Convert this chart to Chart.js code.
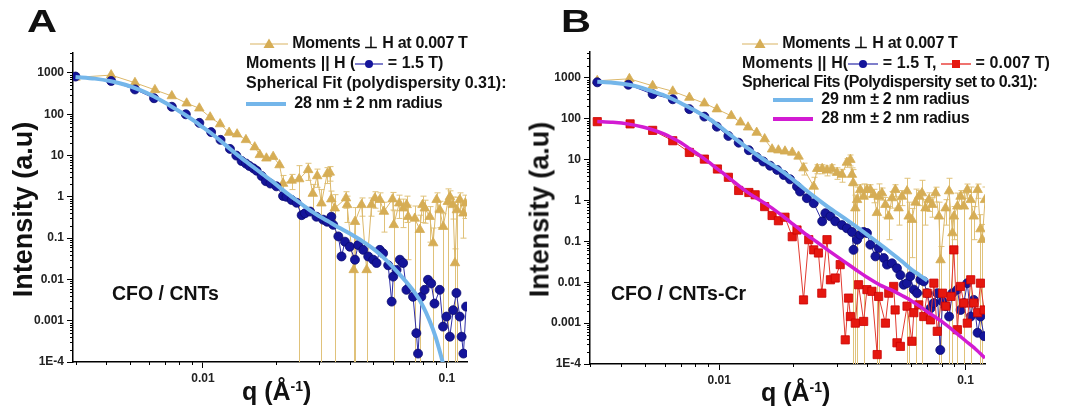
<!DOCTYPE html>
<html>
<head>
<meta charset="utf-8">
<script src="https://cdn.jsdelivr.net/npm/chart.js@4.4.1/dist/chart.umd.min.js"></script>
<style>
  body { margin: 0; background: #fff; width: 1066px; height: 407px; overflow: hidden; position: relative;
         font-family: 'Liberation Sans', Arial, sans-serif; color: #111; }
  .panel { position: absolute; top: 0; width: 533px; height: 407px; }
  .txt { position: absolute; white-space: nowrap; font-weight: bold; line-height: 18px; }
  .leg { font-size: 16px; letter-spacing: -0.3px; }
  .big { font-size: 32px; transform: scaleX(1.3); transform-origin: left top; line-height: 32px; }
  .ytitle { font-size: 27px; transform: rotate(-90deg); transform-origin: center center; line-height: 27px; }
  .xtitle { font-size: 25px; line-height: 25px; }
  .xtitle sup { font-size: 14px; vertical-align: 9px; line-height: 0; }
  .lab { font-size: 19.5px; line-height: 20px; }
  svg { vertical-align: middle; }
</style>
</head>
<body>
<div class="panel" style="left:0"><canvas id="chartA" width="533" height="407"></canvas></div>
<div class="panel" style="left:533px"><canvas id="chartB" width="533" height="407"></canvas></div>

<!-- panel A texts -->
<div class="txt big" style="left:27px; top:5px">A</div>
<div class="txt leg" style="left:250px; top:34px"><svg width="38" height="12"><line x1="0" y1="6" x2="38" y2="6" stroke="#d9b463" stroke-width="1.2"/><polygon points="19,0.5 24.5,10 13.5,10" fill="#d6ad55"/></svg>&nbsp;Moments ⊥ H at 0.007 T</div>
<div class="txt leg" style="left:246px; top:54px; letter-spacing:0">Moments || H (<svg width="28" height="12"><line x1="0" y1="6" x2="28" y2="6" stroke="#2a2aa8" stroke-width="1.2"/><circle cx="14" cy="6" r="4" fill="#14149a"/></svg> = 1.5 T)</div>
<div class="txt leg" style="left:246px; top:74px; letter-spacing:0">Spherical Fit (polydispersity 0.31):</div>
<div class="txt leg" style="left:246px; top:94px"><svg width="40" height="12"><line x1="0" y1="6" x2="40" y2="6" stroke="#74b6ea" stroke-width="4"/></svg>&nbsp; 28 nm ± 2 nm radius</div>
<div class="txt ytitle" style="left:-67px; top:196px; width:180px; text-align:center">Intensity (a.u)</div>
<div class="txt xtitle" style="left:242px; top:379px">q (Å<sup>-1</sup>)</div>
<div class="txt lab" style="left:112px; top:283px">CFO / CNTs</div>

<!-- panel B texts -->
<div class="txt big" style="left:561px; top:5px">B</div>
<div class="txt leg" style="left:742px; top:34px"><svg width="36" height="12"><line x1="0" y1="6" x2="36" y2="6" stroke="#d9b463" stroke-width="1.2"/><polygon points="18,0.5 23.5,10 12.5,10" fill="#d6ad55"/></svg>&nbsp;Moments ⊥ H at 0.007 T</div>
<div class="txt leg" style="left:742px; top:54px; letter-spacing:0.1px">Moments || H(<svg width="30" height="12"><line x1="0" y1="6" x2="30" y2="6" stroke="#2a2aa8" stroke-width="1.2"/><circle cx="15" cy="6" r="4" fill="#14149a"/></svg> = 1.5 T, <svg width="30" height="12"><line x1="0" y1="6" x2="30" y2="6" stroke="#e5170f" stroke-width="1.2"/><rect x="11" y="2" width="8" height="8" fill="#e5170f"/></svg> = 0.007 T)</div>
<div class="txt leg" style="left:742px; top:73px; letter-spacing:-0.5px">Spherical Fits (Polydispersity set to 0.31):</div>
<div class="txt leg" style="left:773px; top:90px"><svg width="40" height="12"><line x1="0" y1="6" x2="40" y2="6" stroke="#74b6ea" stroke-width="4"/></svg>&nbsp; 29 nm ± 2 nm radius</div>
<div class="txt leg" style="left:773px; top:109px"><svg width="40" height="12"><line x1="0" y1="6" x2="40" y2="6" stroke="#d21bd2" stroke-width="4"/></svg>&nbsp; 28 nm ± 2 nm radius</div>
<div class="txt ytitle" style="left:450px; top:196px; width:180px; text-align:center">Intensity (a.u)</div>
<div class="txt xtitle" style="left:761px; top:380px">q (Å<sup>-1</sup>)</div>
<div class="txt lab" style="left:611px; top:283px">CFO / CNTs-Cr</div>

<script>
// ---- axes ----
const yTickValues = [1e-4, 0.001, 0.01, 0.1, 1, 10, 100, 1000];
const yTickLabels = ['1E-4', '0.001', '0.01', '0.1', '1', '10', '100', '1000'];
const xTickValues = [0.01, 0.1];
const xTickLabels = ['0.01', '0.1'];

// ---- panel A: CFO / CNTs ----
const aGoldQ = [0.0030, 0.0042, 0.00526, 0.00635, 0.00745, 0.00857, 0.00966, 0.0107, 0.01175, 0.0128,
  0.0138, 0.0150, 0.0163, 0.0171, 0.0182, 0.0194, 0.0206, 0.0213, 0.0231, 0.0248,
  0.0270, 0.0282, 0.0294, 0.0306, 0.0323, 0.0331, 0.0336, 0.0347, 0.0386, 0.0390,
  0.0415, 0.0420, 0.0447, 0.0469, 0.0491, 0.0507, 0.0531, 0.0552, 0.0599, 0.0606,
  0.0638, 0.0663, 0.0684, 0.0694, 0.0739, 0.0775, 0.0795, 0.0812, 0.0851, 0.0879,
  0.0908, 0.0936, 0.0966, 0.101, 0.103, 0.106, 0.108, 0.110, 0.113, 0.117, 0.119];
const aGoldI = [780, 890, 580, 390, 277, 185, 140, 85, 58, 36,
  33, 24, 16, 10.4, 8.6, 9.4, 5.9, 2.1, 2.5, 2.7,
  4.5, 1.2, 3.2, 0.7, 3.6, 3.9, 0.88, 0.53, 0.93, 0.64,
  0.017, 0.25, 0.64, 0.017, 0.64, 0.93, 0.85, 0.44, 0.88, 0.21,
  0.70, 0.53, 0.64, 0.33, 0.30, 0.16, 0.64, 0.53, 0.33, 0.076,
  0.85, 0.48, 0.19, 0.76, 1.0, 0.64, 0.025, 0.48, 0.85, 0.40, 0.70];
const aGoldErr = [0, 0, 0, 0, 0, 0, 0, 0, 0, 0,
  0, 0, 0, 0, 0, 0, 0, 1.2, 1.0, 3,
  2, 0.8, 1.5, 0.8, 1.5, 1.5, 0.5, 0.6, 0.4, 0.4,
  0.02, 0.3, 0.3, 0.02, 0.3, 0.4, 0.4, 0.3, 0.4, 0.25,
  0.4, 0.35, 0.4, 0.3, 0.3, 0.2, 0.4, 0.3, 0.25, 0.1,
  0.4, 0.3, 0.2, 0.8, 0.4, 0.35, 0.03, 0.5, 0.4, 0.3, 0.4];

const aBlueQ = [0.0030, 0.0042, 0.00526, 0.0063, 0.00745, 0.0085, 0.00966, 0.0108, 0.0118, 0.0129,
  0.0137, 0.0144, 0.0150, 0.0155, 0.0161, 0.0166, 0.0174, 0.0181, 0.0189, 0.0200,
  0.0213, 0.0220, 0.0231, 0.0242, 0.0254, 0.0262, 0.0275, 0.0292, 0.0311, 0.0323,
  0.0336, 0.0342, 0.0359, 0.0370, 0.0382, 0.0400, 0.0420, 0.0433, 0.0454, 0.0476,
  0.0499, 0.0515, 0.0531, 0.0548, 0.0575, 0.0594, 0.0603, 0.0622, 0.0642, 0.0662,
  0.0683, 0.0727, 0.0750, 0.0762, 0.0786, 0.0811, 0.0837, 0.0863, 0.0890, 0.0935,
  0.0965, 0.0997, 0.1029, 0.1062, 0.1095, 0.113, 0.115, 0.117, 0.120];
const aBlueI = [820, 640, 400, 245, 152, 100, 62, 37, 24, 14.5,
  10, 7.4, 6.4, 5.6, 4.9, 4.3, 3.2, 2.4, 2.1, 1.8,
  1.05, 1.0, 0.84, 0.72, 0.36, 0.40, 0.44, 0.33, 0.28, 0.25,
  0.33, 0.21, 0.11, 0.036, 0.082, 0.062, 0.030, 0.068, 0.052, 0.036,
  0.030, 0.025, 0.052, 0.043, 0.022, 0.0029, 0.0117, 0.017, 0.030, 0.025,
  0.0056, 0.0038, 0.0005, 0.00016, 0.0038, 0.0056, 0.0098, 0.008, 0.0026, 0.0056,
  0.00072, 0.00126, 0.00041, 0.0018, 0.0047, 0.00126, 0.00041, 0.00016, 0.0022];

const aFitQ = [0.0030, 0.0036, 0.0042, 0.0048, 0.0055, 0.0063, 0.0070, 0.0077, 0.0085, 0.0093,
  0.0100, 0.0110, 0.0120, 0.0130, 0.0140, 0.0150, 0.0160, 0.0175, 0.0190, 0.0205,
  0.0220, 0.0240, 0.0260, 0.0280, 0.0300, 0.0325, 0.0350, 0.0375, 0.0400, 0.0450,
  0.0500, 0.0550, 0.0600, 0.0650, 0.0700, 0.0750, 0.0800, 0.0850, 0.0900, 0.0950, 0.100];
const aFitI = [800, 730, 630, 520, 390, 270, 190, 135, 95, 66,
  48, 32, 21, 14, 9.8, 7.2, 5.4, 3.6, 2.5, 1.75,
  1.25, 0.85, 0.6, 0.44, 0.34, 0.26, 0.2, 0.16, 0.13, 0.085,
  0.055, 0.034, 0.02, 0.012, 0.0072, 0.0042, 0.0022, 0.001, 0.0004, 0.00013, 0.00004];

// ---- panel B: CFO / CNTs-Cr ----
const bGoldQ = [0.0032, 0.00432, 0.00537, 0.00648, 0.00757, 0.00871, 0.00979, 0.0112, 0.0122, 0.0131,
  0.0142, 0.0153, 0.0164, 0.0174, 0.0185, 0.0198, 0.0210, 0.0220, 0.0242, 0.0250,
  0.0262, 0.0274, 0.0287, 0.0301, 0.0315, 0.0330, 0.0341, 0.0346, 0.0350, 0.0357,
  0.0363, 0.0374, 0.0386, 0.0398, 0.0411, 0.0424, 0.0437, 0.0444, 0.0458, 0.0473,
  0.0488, 0.0503, 0.0519, 0.0535, 0.0552, 0.0579, 0.0588, 0.0606, 0.0627, 0.0646,
  0.0666, 0.0688, 0.0710, 0.0732, 0.0756, 0.0780, 0.0792, 0.0830, 0.0858, 0.0885,
  0.0897, 0.0927, 0.0955, 0.0985, 0.1017, 0.105, 0.108, 0.112, 0.115, 0.117, 0.120];
const bGoldI = [850, 950, 640, 470, 330, 240, 172, 118, 82, 62,
  46, 32, 18, 17, 16, 15, 12, 6.2, 2.2, 6.0,
  6.0, 5.5, 6.0, 4.8, 4.3, 8.5, 10, 4.3, 2.7, 0.65,
  1.04, 1.83, 1.25, 1.83, 1.83, 1.38, 0.5, 1.25, 1.52, 0.79,
  0.41, 1.15, 1.83, 0.65, 1.25, 1.7, 0.41, 0.34, 0.9, 1.25,
  1.52, 0.65, 1.04, 0.79, 1.52, 0.41, 0.035, 0.65, 1.7, 0.16,
  0.41, 0.72, 1.25, 0.72, 1.83, 1.04, 0.41, 1.83, 0.2, 0.11, 1.04];
const bGoldErr = [0, 0, 0, 0, 0, 0, 0, 0, 0, 0,
  0, 0, 0, 0, 0, 0, 0, 2, 1.5, 1.5,
  1.5, 1.5, 1.5, 1.5, 1.5, 2, 3, 2, 3, 0.7,
  1.1, 0.6, 1.3, 0.6, 0.6, 0.5, 0.6, 1.3, 0.5, 0.4,
  0.3, 0.5, 0.6, 0.4, 0.5, 1.8, 0.5, 0.3, 1.0, 0.5,
  1.6, 0.4, 0.5, 0.4, 0.6, 0.5, 0.04, 0.4, 1.8, 0.2,
  0.3, 0.8, 0.5, 0.8, 0.7, 1.1, 0.3, 0.7, 0.25, 0.15, 1.1];

const bBlueQ = [0.0032, 0.00428, 0.00537, 0.00648, 0.00757, 0.00871, 0.00979, 0.0109, 0.0120, 0.0132,
  0.0142, 0.0151, 0.0161, 0.0172, 0.0183, 0.0194, 0.0207, 0.0213, 0.0227, 0.0242,
  0.0262, 0.0270, 0.0283, 0.0296, 0.0315, 0.0330, 0.0346, 0.0351, 0.0363, 0.0374,
  0.0386, 0.0398, 0.0411, 0.0431, 0.0444, 0.0466, 0.0480, 0.0503, 0.0527, 0.0544,
  0.0561, 0.0579, 0.0597, 0.0617, 0.0636, 0.0656, 0.0677, 0.0699, 0.0721, 0.0744,
  0.0768, 0.0790, 0.0806, 0.0832, 0.0858, 0.0885, 0.0927, 0.0955, 0.0985, 0.1017,
  0.105, 0.108, 0.112, 0.115, 0.119];
const bBlueI = [780, 680, 400, 300, 172, 113, 64, 38, 26, 17,
  11.5, 9.0, 7.1, 5.6, 4.2, 3.3, 2.2, 1.66, 1.14, 0.86,
  0.31, 0.49, 0.41, 0.31, 0.25, 0.21, 0.17, 0.062, 0.11, 0.145,
  0.17, 0.16, 0.083, 0.043, 0.069, 0.039, 0.027, 0.029, 0.022, 0.015,
  0.0087, 0.0095, 0.014, 0.0066, 0.0054, 0.0115, 0.0105, 0.0054, 0.0023, 0.0031,
  0.0054, 0.00022, 0.0034, 0.0026, 0.00145, 0.0054, 0.0066, 0.0021, 0.0031, 0.0095,
  0.00145, 0.0037, 0.00058, 0.00145, 0.00048];

const bRedQ = [0.0032, 0.00435, 0.00537, 0.00648, 0.00757, 0.00871, 0.00984, 0.0109, 0.0120, 0.0132,
  0.0140, 0.0153, 0.0164, 0.0174, 0.0185, 0.0198, 0.0207, 0.0220, 0.0231, 0.0242,
  0.0253, 0.0261, 0.0274, 0.0283, 0.0296, 0.0310, 0.0325, 0.0335, 0.0341, 0.0357,
  0.0368, 0.0386, 0.0398, 0.0417, 0.0438, 0.0444, 0.0473, 0.0488, 0.0511, 0.0518,
  0.0527, 0.0544, 0.0579, 0.0606, 0.0617, 0.0646, 0.0677, 0.0699, 0.0721, 0.0744,
  0.0768, 0.0806, 0.0832, 0.0873, 0.0897, 0.0927, 0.0955, 0.0985, 0.1017, 0.105,
  0.108, 0.112, 0.115, 0.119];
const bRedI = [85, 75, 52, 29, 15, 10.3, 5.9, 3.7, 1.76, 1.57,
  1.38, 0.71, 0.43, 0.32, 0.39, 0.13, 0.19, 0.0037, 0.11, 0.062,
  0.052, 0.0054, 0.11, 0.0115, 0.0127, 0.027, 0.00039, 0.0041, 0.00145, 0.001,
  0.0087, 0.0011, 0.0066, 0.006, 0.00017, 0.0045, 0.001, 0.0054, 0.0079, 0.0021,
  0.00033, 0.00027, 0.0026, 0.00036, 0.0018, 0.0028, 0.00145, 0.0054, 0.0012, 0.0095,
  0.00063, 0.0054, 0.0026, 0.0045, 0.062, 0.00069, 0.0079, 0.0031, 0.001, 0.0115,
  0.0031, 0.0018, 0.0095, 0.0021];

const bFitBlueQ = [0.0032, 0.0037, 0.0043, 0.0049, 0.0054, 0.0060, 0.0065, 0.0070, 0.0076, 0.0082,
  0.0087, 0.0093, 0.0098, 0.0104, 0.0110, 0.0120, 0.0130, 0.0140, 0.0150, 0.0160,
  0.0180, 0.0200, 0.0220, 0.0250, 0.0280, 0.0320, 0.0360, 0.0400, 0.0450, 0.0500,
  0.0550, 0.0600, 0.0650, 0.0700];
const bFitBlueI = [800, 760, 680, 560, 460, 370, 300, 240, 185, 145,
  118, 92, 72, 55, 42, 28, 19.5, 14, 10.5, 8.2,
  5.2, 3.2, 2.0, 1.1, 0.66, 0.38, 0.23, 0.145, 0.085, 0.052,
  0.033, 0.021, 0.015, 0.011];

const bFitMagQ = [0.0032, 0.0037, 0.0043, 0.0049, 0.0054, 0.0060, 0.0065, 0.0070, 0.0076, 0.0082,
  0.0087, 0.0093, 0.0098, 0.0104, 0.0110, 0.0120, 0.0130, 0.0140, 0.0160, 0.0180,
  0.0200, 0.0220, 0.0250, 0.0280, 0.0320, 0.0360, 0.0400, 0.0450, 0.0500, 0.0550,
  0.0600, 0.0650, 0.0700, 0.0800, 0.0900, 0.1000, 0.1100, 0.1200];
const bFitMagI = [86, 82, 74, 63, 53, 42, 33, 26, 18.5, 13.5,
  10.5, 7.8, 6, 4.6, 3.5, 2.3, 1.6, 1.2, 0.72, 0.43,
  0.26, 0.165, 0.095, 0.058, 0.033, 0.02, 0.013, 0.0085, 0.0065, 0.0048,
  0.0036, 0.0026, 0.0019, 0.0011, 0.00063, 0.00037, 0.00023, 0.00014];

const FONT = "'Liberation Sans', Arial, sans-serif";
const GOLD = '#d6ad55', NAVY = '#14149a', RED = '#e5170f', SKY = '#74b6ea', MAGENTA = '#d21bd2';

function pts(qs, vals) {
  return qs.map((q, i) => ({ x: q, y: vals[i] }));
}

// petits traits des graduations logarithmiques (2..9 de chaque décade)
const minorTicks = {
  id: 'minorTicks',
  afterDraw(chart) {
    const ctx = chart.ctx;
    ctx.save();
    ctx.strokeStyle = '#000';
    ctx.lineWidth = 1;
    ['x', 'y'].forEach(id => {
      const s = chart.scales[id];
      const lo = Math.floor(Math.log10(s.min)), hi = Math.ceil(Math.log10(s.max));
      for (let d = lo; d <= hi; d++) {
        for (let m = 2; m <= 9; m++) {
          const v = m * Math.pow(10, d);
          if (v < s.min || v > s.max) continue;
          const p = Math.round(s.getPixelForValue(v)) + 0.5;
          ctx.beginPath();
          if (id === 'x') { ctx.moveTo(p, s.top); ctx.lineTo(p, s.top + 3); }
          else { ctx.moveTo(s.right, p); ctx.lineTo(s.right - 3, p); }
          ctx.stroke();
        }
      }
    });
    ctx.restore();
  }
};

// barres d'erreur verticales (vers le bas du graphe si la borne inférieure est <= 0)
const errorBars = {
  id: 'errorBars',
  beforeDatasetsDraw(chart) {
    const ctx = chart.ctx, area = chart.chartArea, ys = chart.scales.y;
    ctx.save();
    ctx.beginPath();
    ctx.rect(area.left, area.top, area.right - area.left, area.bottom - area.top);
    ctx.clip();
    chart.data.datasets.forEach((ds, i) => {
      if (!ds.errs) return;
      const meta = chart.getDatasetMeta(i);
      ctx.strokeStyle = ds.errColor;
      ctx.lineWidth = 1;
      ds.data.forEach((pt, j) => {
        const e = ds.errs[j];
        if (!e) return;
        const x = Math.round(meta.data[j].x) + 0.5;
        const yTop = ys.getPixelForValue(pt.y + e);
        const low = pt.y - e;
        const yBot = low > 0 ? ys.getPixelForValue(low) : area.bottom + 2;
        ctx.beginPath();
        ctx.moveTo(x, yTop); ctx.lineTo(x, yBot);
        ctx.moveTo(x - 3, yTop); ctx.lineTo(x + 3, yTop);
        if (low > 0) { ctx.moveTo(x - 3, yBot); ctx.lineTo(x + 3, yBot); }
        ctx.stroke();
      });
    });
    ctx.restore();
  }
};

function axisOptions(xMin, xMax, yMax, yWidth, xHeight) {
  const tickFont = { family: FONT, size: 12, weight: 'bold' };
  return {
    x: {
      type: 'logarithmic', min: xMin, max: xMax,
      afterFit: s => { s.height = xHeight; },
      afterBuildTicks: s => { s.ticks = xTickValues.map(v => ({ value: v })); },
      ticks: { color: '#222', font: tickFont, autoSkip: false, maxRotation: 0, padding: 3,
               callback: (v) => xTickLabels[xTickValues.indexOf(v)] },
      grid: { display: true, drawOnChartArea: false, drawTicks: true, tickLength: 6, color: '#000', tickWidth: 1 },
      border: { display: true, color: '#000', width: 1.5 }
    },
    y: {
      type: 'logarithmic', min: 1e-4, max: yMax,
      afterFit: s => { s.width = yWidth; },
      afterBuildTicks: s => { s.ticks = yTickValues.map(v => ({ value: v })); },
      ticks: { color: '#222', font: tickFont, autoSkip: false, padding: 3,
               callback: (v) => yTickLabels[yTickValues.indexOf(v)] },
      grid: { display: true, drawOnChartArea: false, drawTicks: true, tickLength: 6, color: '#000', tickWidth: 1 },
      border: { display: true, color: '#000', width: 1.5 }
    }
  };
}

function commonOptions(padding, scales) {
  return {
    responsive: false,
    animation: false,
    devicePixelRatio: 1,
    layout: { padding: padding },
    plugins: { legend: { display: false }, tooltip: { enabled: false } },
    scales: scales
  };
}

function fitSet(qs, vals, color, width) {
  return { data: pts(qs, vals), showLine: true, borderColor: color, borderWidth: width,
           pointRadius: 0, tension: 0.3, backgroundColor: color };
}

function dataSet(qs, vals, color, lineColor, style, radius, border) {
  return { data: pts(qs, vals), showLine: true, borderColor: lineColor, borderWidth: 1,
           pointStyle: style, pointRadius: radius, pointBackgroundColor: color,
           pointBorderColor: border, pointBorderWidth: 0.8, backgroundColor: color };
}

// Graphique A
new Chart(document.getElementById('chartA'), {
  type: 'scatter',
  data: {
    datasets: [
      fitSet(aFitQ, aFitI, SKY, 4),
      dataSet(aBlueQ, aBlueI, NAVY, '#2e2ea6', 'circle', 4.5, '#0b0b70'),
      Object.assign(dataSet(aGoldQ, aGoldI, GOLD, '#dcb86a', 'triangle', 5.5, GOLD),
        { errs: aGoldErr, errColor: '#e0c27a' })
    ]
  },
  options: commonOptions({ top: 53, right: 66, left: 0, bottom: 0 },
    axisOptions(0.00293, 0.121, 3050, 73, 45)),
  plugins: [minorTicks, errorBars]
});

// Graphique B
new Chart(document.getElementById('chartB'), {
  type: 'scatter',
  data: {
    datasets: [
      fitSet(bFitMagQ, bFitMagI, MAGENTA, 3.5),
      fitSet(bFitBlueQ, bFitBlueI, SKY, 4),
      dataSet(bRedQ, bRedI, RED, '#e23a30', 'rect', 5.8, '#c00'),
      dataSet(bBlueQ, bBlueI, NAVY, '#2e2ea6', 'circle', 4.5, '#0b0b70'),
      Object.assign(dataSet(bGoldQ, bGoldI, GOLD, '#dcb86a', 'triangle', 5.5, GOLD),
        { errs: bGoldErr, errColor: '#e0c27a' })
    ]
  },
  options: commonOptions({ top: 52, right: 81, left: 0, bottom: 0 },
    axisOptions(0.00299, 0.120, 4300, 57, 43)),
  plugins: [minorTicks, errorBars]
});
</script>
</body>
</html>
